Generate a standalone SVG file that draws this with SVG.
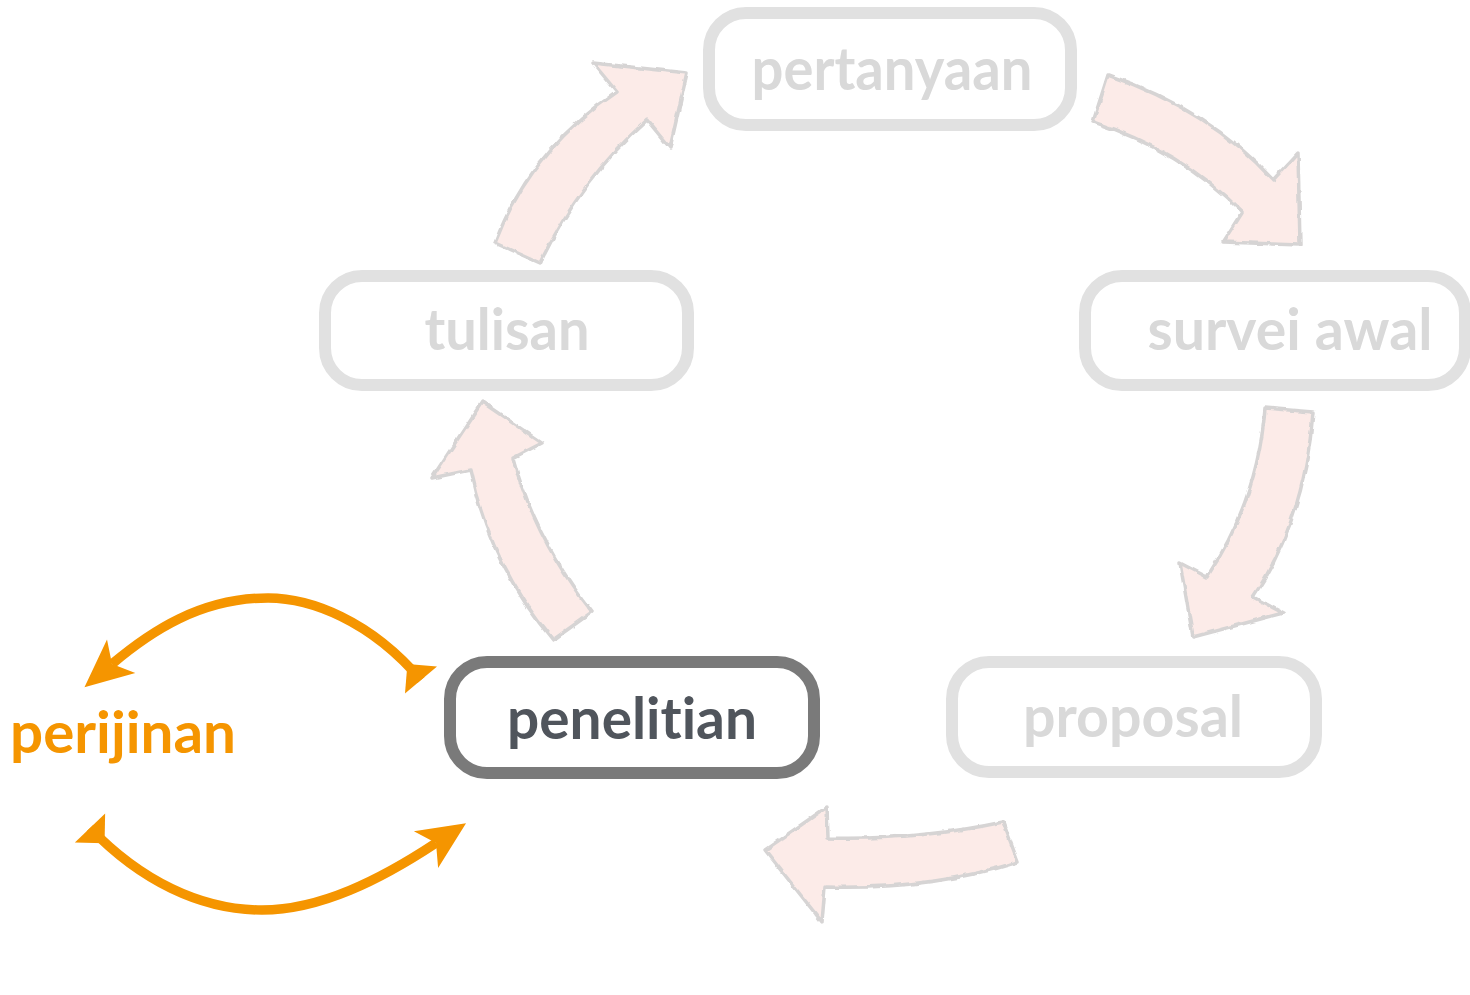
<svg xmlns="http://www.w3.org/2000/svg" width="1470" height="995" viewBox="0 0 1470 995">
<style>
.box{fill:#ffffff;stroke:#e1e1e1;stroke-width:12}
.box.active{stroke:#7a7a7a}
.lbl{font-family:Lato,"Open Sans","Liberation Sans",sans-serif;font-weight:700;text-anchor:middle;fill:#d9d9d9;font-variant-ligatures:none;font-feature-settings:"liga" 0,"clig" 0}
.lbl.active{fill:#50555c}
.lbl.orange{fill:#f59500;text-anchor:start}
.blk{fill:#fcebe8;stroke:#d6d4d4;stroke-width:3.5;stroke-linejoin:round;filter:url(#rough)}
.arc{fill:none;stroke:#f59500;stroke-width:9.5;marker-start:url(#startHead);marker-end:url(#endHead)}
</style>
<defs>
<filter id="rough" x="-10%" y="-10%" width="120%" height="120%">
<feTurbulence type="fractalNoise" baseFrequency="0.09" numOctaves="2" seed="3" result="n"/>
<feDisplacementMap in="SourceGraphic" in2="n" scale="4" xChannelSelector="R" yChannelSelector="G" result="d"/>
<feGaussianBlur in="d" stdDeviation="0.7"/>
</filter>
<marker id="endHead" markerUnits="userSpaceOnUse" viewBox="-14 -24 52 48" refX="0" refY="0" markerWidth="52" markerHeight="48" orient="auto">
<path d="M36,0 L-12,-22 L0,0 L-12,22 Z" fill="#f59500"/>
</marker>
<marker id="startHead" markerUnits="userSpaceOnUse" viewBox="-2 -23 26 46" refX="0" refY="0" markerWidth="26" markerHeight="46" orient="auto">
<path d="M0,-21 L21,0 L0,21 Z" fill="#f59500"/>
</marker>
</defs>
<rect width="1470" height="995" fill="#ffffff"/>
<g id="connectors">
<path class="blk" d="M495,243 Q530,150 617,92 L593,63 L687,73 L670,148 L647,120 Q580,180 540,263 Z"/>
<path class="blk" d="M1108,75 Q1210,110 1273,180 L1298,153 L1300,245 L1223,242 L1242,212 Q1180,150 1093,122 Z"/>
<path class="blk" d="M1265,408 L1313,412 Q1305,520 1253,597 L1283,613 L1193,637 L1180,563 L1207,577 Q1258,500 1265,408 Z"/>
<path class="blk" d="M1003,822 Q920,840 828,838 L827,807 L765,850 L822,922 L825,887 Q930,890 1018,862 Z"/>
<path class="blk" d="M592,612 Q535,540 513,458 L542,443 L482,402 L432,478 L470,470 Q490,565 553,640 Z"/>
<path class="arc" d="M421,680 C370,620 310,598 268,598 C200,598 150,632 112,664"/>
<path class="arc" d="M90,828 C140,880 200,910 262,910 C320,910 380,880 436,843"/>
</g>
<g id="node-pertanyaan">
<rect class="box" x="709" y="13" width="362" height="112" rx="37"/>
<text class="lbl" x="892" y="90" font-size="60" textLength="281" lengthAdjust="spacingAndGlyphs">pertanyaan</text>
</g>
<g id="node-tulisan">
<rect class="box" x="325" y="276" width="363" height="109" rx="37"/>
<text class="lbl" x="507" y="350" font-size="58" textLength="165" lengthAdjust="spacingAndGlyphs">tulisan</text>
</g>
<g id="node-survei-awal">
<rect class="box" x="1085" y="276" width="380" height="109" rx="37"/>
<text class="lbl" x="1290" y="350" font-size="58" textLength="285" lengthAdjust="spacingAndGlyphs">survei awal</text>
</g>
<g id="node-proposal">
<rect class="box" x="952" y="662" width="364" height="110" rx="37"/>
<text class="lbl" x="1133" y="737" font-size="58" textLength="220" lengthAdjust="spacingAndGlyphs">proposal</text>
</g>
<g id="node-penelitian">
<rect class="box active" x="450" y="662" width="364" height="111" rx="37"/>
<text class="lbl active" x="632" y="739" font-size="58" textLength="250" lengthAdjust="spacingAndGlyphs">penelitian</text>
</g>
<g id="node-perijinan">
<text class="lbl orange" x="10" y="753" font-size="58" textLength="226" lengthAdjust="spacingAndGlyphs">perijinan</text>
</g>
</svg>
